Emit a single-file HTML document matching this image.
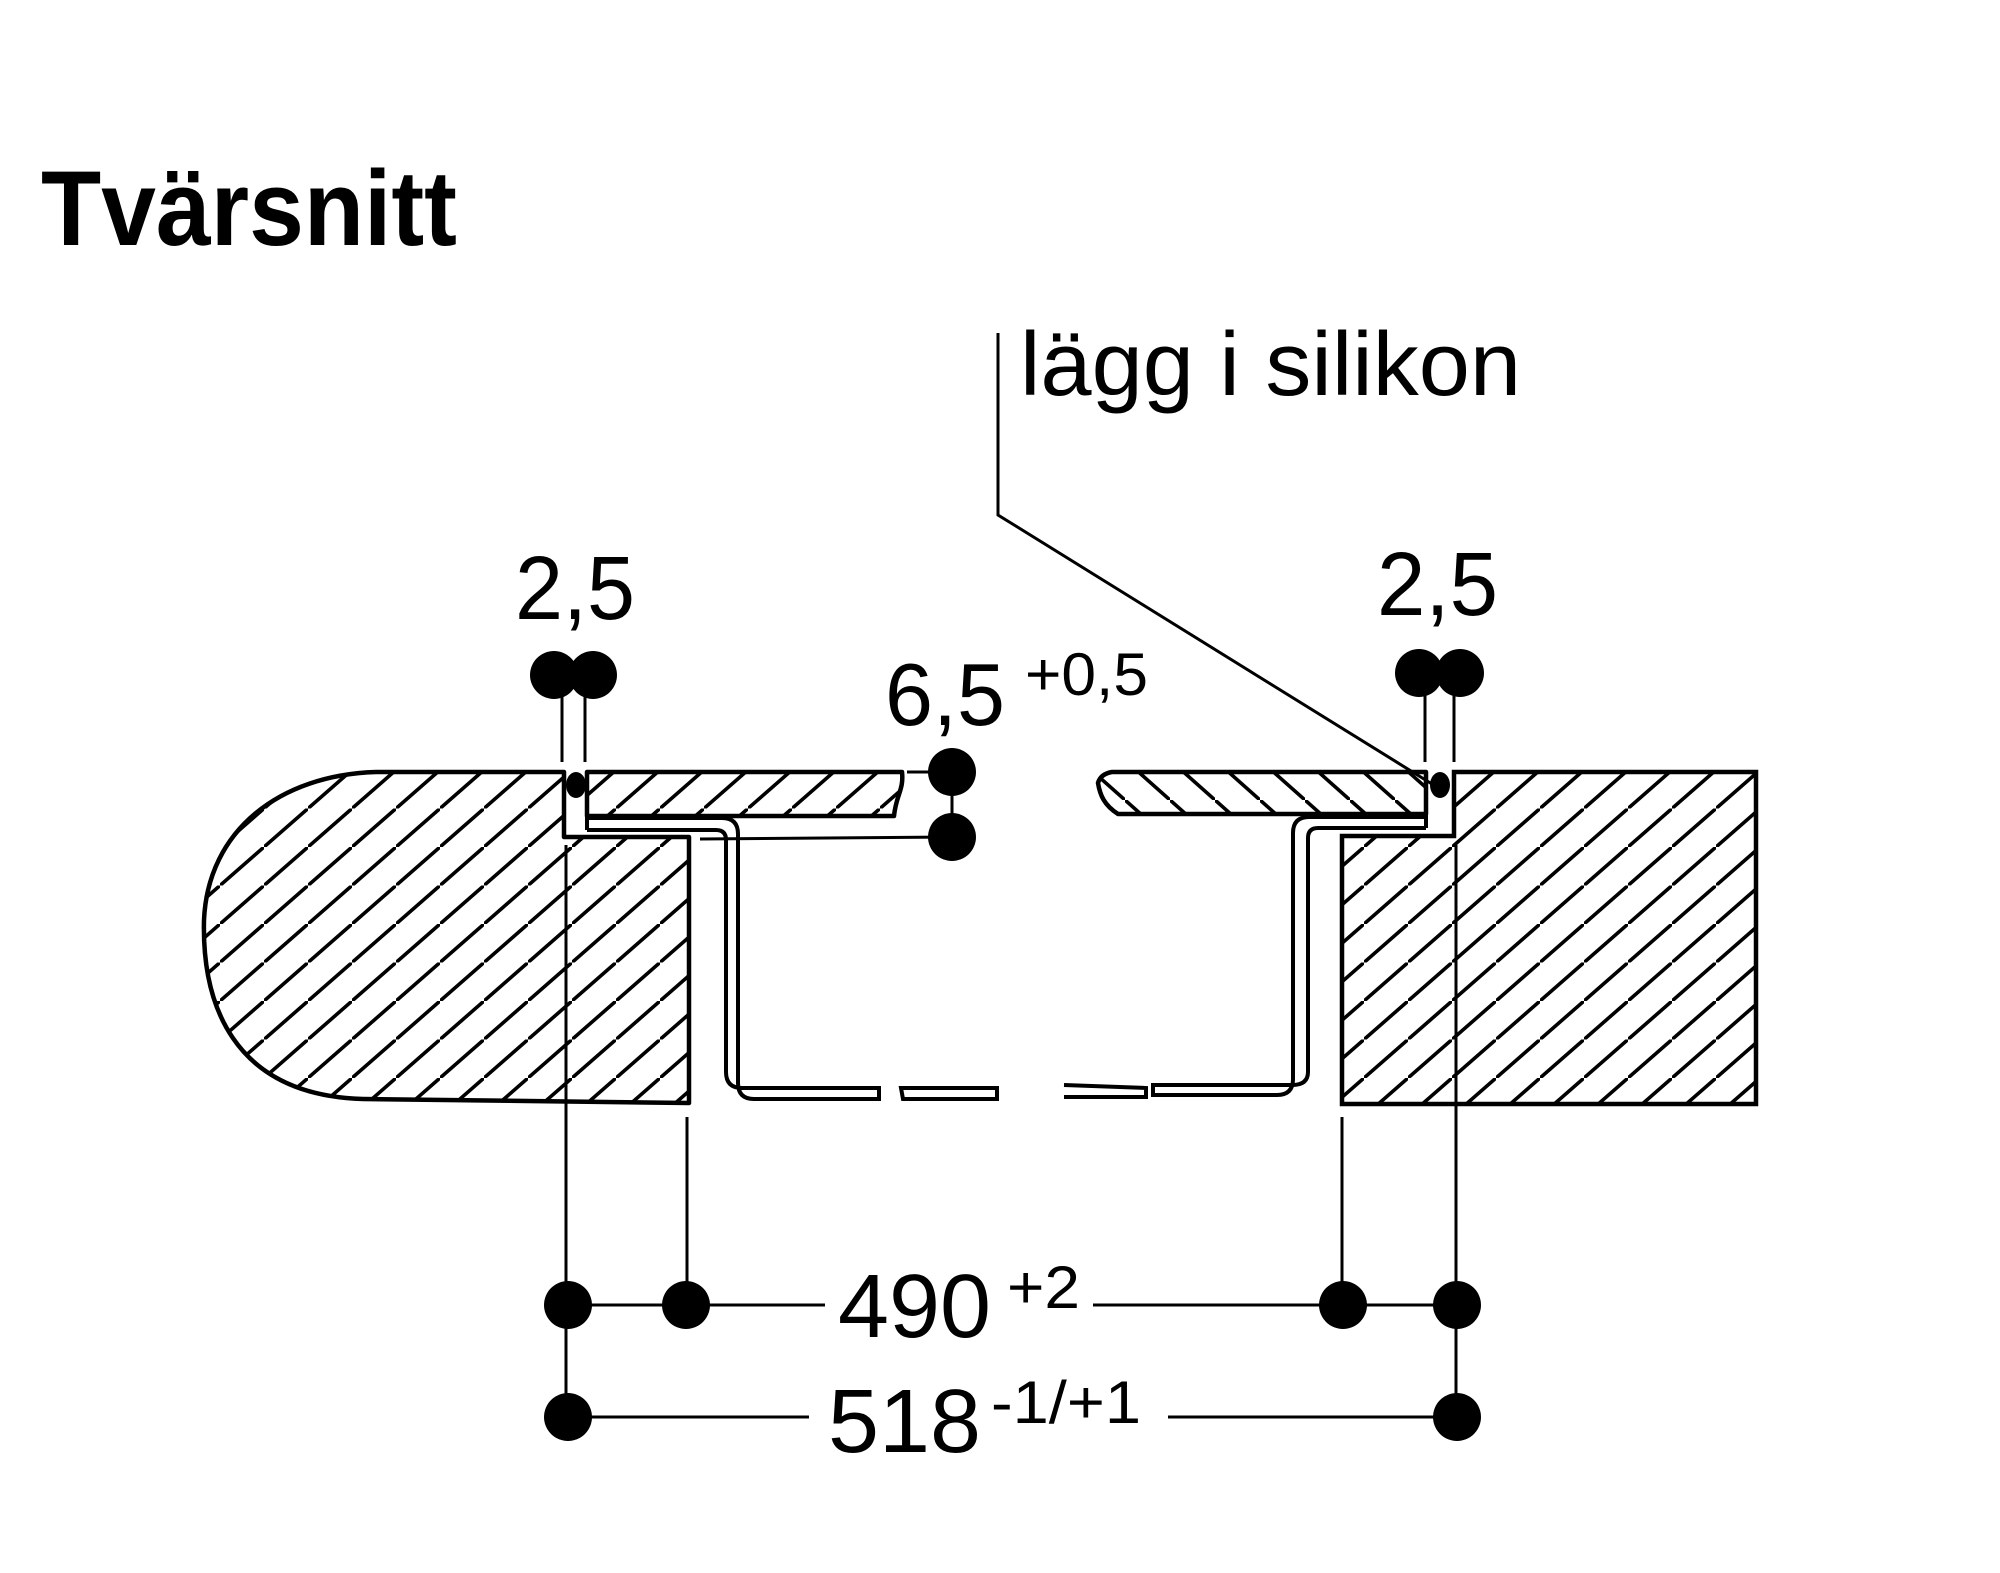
<!DOCTYPE html>
<html><head><meta charset="utf-8"><style>
html,body{margin:0;padding:0;background:#fff}
svg{display:block}
text{font-family:"Liberation Sans",Arial,sans-serif;fill:#000}
</style></head><body>
<svg width="2000" height="1573" viewBox="0 0 2000 1573" xmlns="http://www.w3.org/2000/svg">
<defs>
<pattern id="hf" patternUnits="userSpaceOnUse" width="44" height="38.5">
<path d="M-2,40.25 L46,-1.75" stroke="#000" stroke-width="3.6"/>
</pattern>
<pattern id="hb" patternUnits="userSpaceOnUse" width="45" height="40">
<path d="M-2,-1.8 L47,41.8" stroke="#000" stroke-width="3.6"/>
</pattern>
</defs>
<rect width="2000" height="1573" fill="#fff"/>

<text x="41" y="245" font-size="107" font-weight="bold" textLength="416" lengthAdjust="spacingAndGlyphs">Tvärsnitt</text>
<text x="1020" y="395" font-size="90" textLength="501" lengthAdjust="spacingAndGlyphs">lägg i silikon</text>
<text x="515" y="619" font-size="90" textLength="120" lengthAdjust="spacingAndGlyphs">2,5</text>
<text x="1377" y="615" font-size="90" textLength="121" lengthAdjust="spacingAndGlyphs">2,5</text>
<text x="885" y="725" font-size="88" textLength="120" lengthAdjust="spacingAndGlyphs">6,5</text>
<text x="1025" y="695" font-size="60" textLength="123" lengthAdjust="spacingAndGlyphs">+0,5</text>
<text x="838" y="1337" font-size="90" textLength="153" lengthAdjust="spacingAndGlyphs">490</text>
<text x="1007" y="1308" font-size="60" textLength="73" lengthAdjust="spacingAndGlyphs">+2</text>
<text x="828" y="1452" font-size="90" textLength="153" lengthAdjust="spacingAndGlyphs">518</text>
<text x="991" y="1423" font-size="60" textLength="150" lengthAdjust="spacingAndGlyphs">-1/+1</text>

<path d="M998,333 L998,515 L1432,784" fill="none" stroke="#000" stroke-width="3"/>

<path d="M376,772 L564,772 L564,837 L689,837 L689,1103 L363,1099 C230,1095 202,1000 204,920 C208,830 280,775 376,772 Z" fill="url(#hf)" stroke="#000" stroke-width="4.5" stroke-linejoin="round"/>
<path d="M1454,772 L1756,772 L1756,1104 L1342,1104 L1342,836 L1454,836 Z" fill="url(#hf)" stroke="#000" stroke-width="4.5"/>
<path d="M587,772 L902,772 C904,790 896,795 894,816 L587,816 Z" fill="url(#hf)" stroke="#000" stroke-width="4.5" stroke-linejoin="round"/>
<path d="M1112,772 L1426,772 L1426,814 L1118,814 C1104,805 1100,795 1098,783 C1100,776 1106,773 1112,772 Z" fill="url(#hb)" stroke="#000" stroke-width="4.5" stroke-linejoin="round"/>

<g fill="none" stroke="#000" stroke-width="4">
<path d="M587,772 L587,830"/>
<path d="M587,818 L722,818 Q738,818 738,834 L738,1083 Q738,1099 754,1099 L879,1099 L879,1088 L742,1088 Q726,1088 726,1072 L726,840 Q726,830 716,830 L587,830"/>
<path d="M901,1088 L997,1088 L997,1099 L903,1099 Z"/>
<path d="M1064,1085 L1146,1088 L1146,1097 L1064,1097"/>
<path d="M1426,817 L1309,817 Q1293,817 1293,833 L1293,1079 Q1293,1095 1277,1095 L1153,1095 L1153,1085 L1293,1085"/>
<path d="M1426,828 L1318,828 Q1308,828 1308,838 L1308,1072 Q1308,1085 1292,1085"/>
<path d="M1426,772 L1426,828"/>
</g>

<ellipse cx="576" cy="785" rx="10" ry="13"/>
<ellipse cx="1440" cy="785" rx="10" ry="13"/>

<g stroke="#000" stroke-width="3" fill="none">
<path d="M562,675 L562,762 M585,675 L585,762"/>
<path d="M1425,673 L1425,762 M1454,673 L1454,762"/>
<path d="M566,845 L566,1417"/>
<path d="M687,1117 L687,1305"/>
<path d="M1342,1117 L1342,1305"/>
<path d="M1456,845 L1456,1417"/>
<path d="M568,1305 L825,1305 M1093,1305 L1457,1305"/>
<path d="M568,1417 L809,1417 M1168,1417 L1457,1417"/>
<path d="M907,772 L952,772 M952,772 L952,837 M700,839 L952,837"/>
</g>
<g fill="#000">
<circle cx="554" cy="675" r="24"/><circle cx="593" cy="675" r="24"/>
<circle cx="1419" cy="673" r="24"/><circle cx="1460" cy="673" r="24"/>
<circle cx="952" cy="772" r="24"/><circle cx="952" cy="837" r="24"/>
<circle cx="568" cy="1305" r="24"/><circle cx="686" cy="1305" r="24"/>
<circle cx="1343" cy="1305" r="24"/><circle cx="1457" cy="1305" r="24"/>
<circle cx="568" cy="1417" r="24"/><circle cx="1457" cy="1417" r="24"/>
</g>
</svg>
</body></html>
